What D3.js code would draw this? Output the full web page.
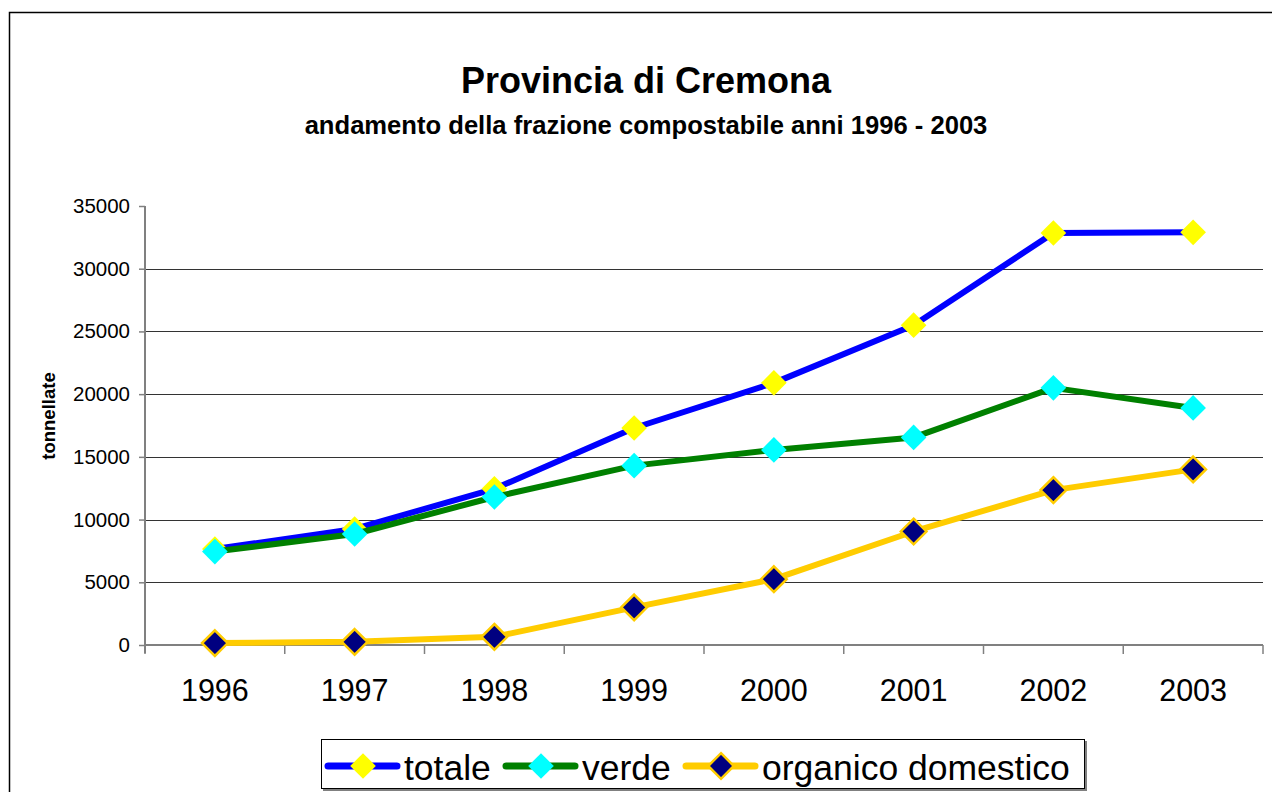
<!DOCTYPE html>
<html lang="it">
<head>
    <meta charset="UTF-8">
    <title>Provincia di Cremona</title>
    <script src="https://d3js.org/d3.v7.min.js"></script>
    <style>
        body { margin: 0; background: #fff; }
        text { font-family: "Liberation Sans", Arial, sans-serif; }
    </style>
</head>
<body>
<svg id="chart" width="1272" height="792"></svg>
<script>
    // dati
    const anni = ['1996', '1997', '1998', '1999', '2000', '2001', '2002', '2003'];
    const totale = [7650, 9250, 12450, 17300, 20900, 25500, 32850, 32900];
    const verde = [7450, 8850, 11800, 14300, 15550, 16550, 20500, 18900];
    const organico = [150, 250, 650, 3000, 5250, 9050, 12350, 14000];
    const yTicks = [0, 5000, 10000, 15000, 20000, 25000, 30000, 35000];

    const serie = [
        {name: 'totale', values: totale, line: '#0000ff', fill: '#ffff00', stroke: 'none'},
        {name: 'verde', values: verde, line: '#008000', fill: '#00ffff', stroke: 'none'},
        {name: 'organico domestico', values: organico, line: '#ffcc00', fill: '#000080', stroke: '#ffcc00'}
    ];

    const svg = d3.select('#chart');
    const m = {l: 145, r: 1263, t: 206, b: 645};

    // cornice esterna
    svg.append('rect').attr('x', 9.5).attr('y', 12.5).attr('width', 1300).attr('height', 900)
        .attr('fill', 'none').attr('stroke', '#000').attr('stroke-width', 1.5);

    svg.append('text').attr('x', 646).attr('y', 93).attr('text-anchor', 'middle')
        .attr('font-size', 36).attr('font-weight', 'bold').text('Provincia di Cremona');
    svg.append('text').attr('x', 646).attr('y', 134).attr('text-anchor', 'middle')
        .attr('font-size', 25.6).attr('font-weight', 'bold')
        .text('andamento della frazione compostabile anni 1996 - 2003');

    const x = d3.scaleBand().domain(anni).range([m.l, m.r]);
    const y = d3.scaleLinear().domain([0, 35000]).range([m.b, m.t]);

    // griglia
    svg.append('g').selectAll('line').data(yTicks.filter(d => d > 0 && d < 35000))
        .join('line')
        .attr('x1', m.l).attr('x2', m.r)
        .attr('y1', d => Math.round(y(d)) + 0.5).attr('y2', d => Math.round(y(d)) + 0.5)
        .attr('stroke', '#333').attr('stroke-width', 1);

    // asse y
    const gy = svg.append('g').attr('transform', `translate(${m.l},0)`)
        .call(d3.axisLeft(y).tickValues(yTicks).tickFormat(d3.format('d'))
            .tickSize(6).tickSizeOuter(0).tickPadding(9));
    gy.select('.domain').attr('stroke', '#808080').attr('stroke-width', 2);
    gy.selectAll('.tick line').attr('stroke', '#808080').attr('stroke-width', 1.5);
    gy.selectAll('.tick text').attr('font-size', 20.5).attr('fill', '#000')
        .style('font-family', '"Liberation Sans", Arial, sans-serif');
    gy.select('.domain').attr('d', `M0,${m.t}V${m.b + 8}`);

    // asse x
    const gx = svg.append('g').attr('transform', `translate(0,${m.b})`);
    gx.append('line').attr('x1', m.l).attr('x2', m.r).attr('y1', 0).attr('y2', 0)
        .attr('stroke', '#808080').attr('stroke-width', 2);
    gx.selectAll('line.tk').data(anni.concat(['end']))
        .join('line').attr('class', 'tk')
        .attr('x1', (d, i) => i < anni.length ? x(d) : m.r)
        .attr('x2', (d, i) => i < anni.length ? x(d) : m.r)
        .attr('y1', 0).attr('y2', 9)
        .attr('stroke', '#808080').attr('stroke-width', 1.5);
    gx.selectAll('text').data(anni).join('text')
        .attr('x', d => x(d) + x.bandwidth() / 2).attr('y', 56)
        .attr('text-anchor', 'middle').attr('font-size', 30.5).text(d => d);

    svg.append('text').attr('transform', 'translate(55,416) rotate(-90)')
        .attr('text-anchor', 'middle').attr('font-size', 18.5).attr('font-weight', 'bold')
        .text('tonnellate');

    const diamond = d3.symbol().type(d3.symbolDiamond2).size(2 * 14.5 * 14.5);
    const line = d3.line().x((d, i) => x(anni[i]) + x.bandwidth() / 2).y(d => y(d));

    serie.forEach(s => {
        const g = svg.append('g');
        g.append('path').attr('d', line(s.values)).attr('fill', 'none')
            .attr('stroke', s.line).attr('stroke-width', 6).attr('stroke-linejoin', 'round');
        g.selectAll('path.mk').data(s.values).join('path').attr('class', 'mk')
            .attr('transform', (d, i) => `translate(${x(anni[i]) + x.bandwidth() / 2},${y(d)})`)
            .attr('d', diamond).attr('fill', s.fill)
            .attr('stroke', s.stroke).attr('stroke-width', 2.5);
    });

    // legenda
    const leg = svg.append('g');
    leg.append('rect').attr('x', 323).attr('y', 741).attr('width', 764).attr('height', 50)
        .attr('fill', '#808080');
    leg.append('rect').attr('x', 321.5).attr('y', 739.5).attr('width', 763).attr('height', 49)
        .attr('fill', '#fff').attr('stroke', '#000').attr('stroke-width', 1);
    const legPos = [328, 506, 686];
    serie.forEach((s, i) => {
        const lx = legPos[i];
        leg.append('line').attr('x1', lx).attr('x2', lx + 69).attr('y1', 766).attr('y2', 766)
            .attr('stroke', s.line).attr('stroke-width', 7).attr('stroke-linecap', 'round');
        leg.append('path').attr('transform', `translate(${lx + 35},766)`)
            .attr('d', diamond).attr('fill', s.fill)
            .attr('stroke', s.stroke).attr('stroke-width', 2.5);
        leg.append('text').attr('x', lx + 76).attr('y', 780).attr('font-size', 35.5).text(s.name);
    });
</script>
</body>
</html>
